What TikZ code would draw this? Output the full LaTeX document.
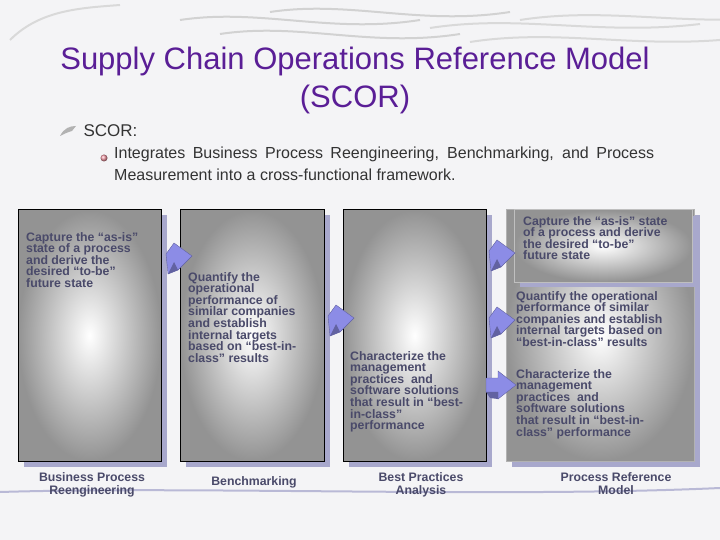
\documentclass[tikz,border=0pt]{standalone}
\usepackage{fontspec}
\setmainfont{Liberation Sans}
\begin{document}
\begin{tikzpicture}[x=1pt,y=-1pt,
  txt/.style={text=textc,font=\bfseries\fontsize{12.3}{11.6}\selectfont,align=left,anchor=north west,inner sep=0pt},
  lbl/.style={text=textc,font=\bfseries\fontsize{12.3}{13}\selectfont,align=center,anchor=north},
  panel/.style={inner color=white,outer color=gray!85,draw=#1,line width=1pt},
  chev/.style={fill=arrc,draw=arrc!70!black,line width=0.4pt}]
\definecolor{textc}{HTML}{4A4A6A}
\definecolor{shad}{HTML}{A8A8CC}
\definecolor{arrc}{HTML}{8C8CE6}
\definecolor{titlec}{HTML}{5A1E96}
\definecolor{bgc}{HTML}{F4F4F6}
\fill[bgc] (0,0) rectangle (720,540);
\useasboundingbox (0,0) rectangle (720,540);
% background swooshes
\foreach \y/\s in {20/0,34/40,12/90}{
 \draw[gray!35,line width=2pt] (\s+180,\y) .. controls (\s+260,\y-12) and (\s+330,\y+14) .. (\s+420,\y);
 \draw[gray!30,line width=2pt] (\s+430,\y+8) .. controls (\s+520,\y-6) and (\s+600,\y+16) .. (\s+700,\y+4);}
\draw[gray!30,line width=2pt] (10,40) .. controls (40,10) and (80,8) .. (120,5);
\draw[shad!80,line width=2pt] (0,492) .. controls (200,486) and (500,498) .. (720,488);
% title
\node[text=titlec,font=\fontsize{31}{38}\selectfont,align=center] (title) at (355,80) {Supply Chain Operations Reference Model\\(SCOR)};
% bullets
\fill[gray!60] (60,136) .. controls (64,128) and (70,126) .. (76,126) -- (72,131) .. controls (68,132) and (64,134) .. (60,136);
\node[text=black!80,font=\fontsize{17}{20}\selectfont,anchor=west] (scor) at (80,131) {SCOR:};
\shade[ball color=pink!80!purple] (104,158) circle (3.5);
\node[text=black!80,font=\fontsize{16}{22}\selectfont,align=justify,text width=540pt,anchor=north west,inner sep=0pt] (sub) at (114,147) {\hyphenpenalty=10000 Integrates Business Process Reengineering, Benchmarking, and Process Measurement into a cross-functional framework.};
% shadows
\foreach \a/\b in {18/161,180/324,343/486}{\fill[shad] (\a+6,215) rectangle (\b+6,467);}
\fill[shad] (512,215) rectangle (700,467);
% panels
\shade[panel=black] (18,210) rectangle (161,461);
\shade[panel=black] (180,210) rectangle (324,461);
\shade[panel=black] (343,210) rectangle (486,461);
\shade[panel=gray!60] (506,210) rectangle (694,461);
\fill[shad] (520,216) rectangle (698,287);
\shade[panel=gray!50] (514,210) rectangle (692,282);
\node[txt] (t1) at (26,232) {Capture the “as-is”\\state of a process\\and derive the\\desired “to-be”\\future state};
\node[txt] (t2) at (188,272) {Quantify the\\operational\\performance of\\similar companies\\and establish\\internal targets\\based on “best-in-\\class” results};
\node[txt] (t3) at (350,351) {Characterize the\\management\\practices\ \ and\\software solutions\\that result in “best-\\in-class”\\performance};
\node[txt] (t4) at (523,216) {Capture the “as-is” state\\of a process and derive\\the desired “to-be”\\future state};
\node[txt] (t5) at (516,291) {Quantify the operational\\performance of similar\\companies and establish\\internal targets based on\\“best-in-class” results};
\node[txt] (t6) at (516,369) {Characterize the\\management\\practices\ \ and\\software solutions\\that result in “best-in-\\class” performance};
% labels
\node[lbl] (l1) at (92,469) {Business Process\\Reengineering};
\node[lbl] (l2) at (254,473) {Benchmarking};
\node[lbl] (l3) at (421,469) {Best Practices\\Analysis};
\node[lbl] (l4) at (616,469) {Process Reference\\Model};
% chevrons
\foreach \x/\y in {176/258,338/320,499/255,499/322}{
 \filldraw[chev] (\x-10,\y-4) -- (\x-2,\y-15) -- (\x+16,\y-2) -- (\x+2,\y+12) -- (\x-8,\y+16) -- cycle;
 \fill[arrc!70!black] (\x-8,\y+16) -- (\x+2,\y+12) -- (\x-2,\y+4) -- cycle;}
\filldraw[chev] (486,378) -- (498,378) -- (498,371) -- (516,385) -- (498,399) -- (498,392) -- (486,392) -- cycle;
\fill[arrc!70!black] (486,392) -- (498,392) -- (498,399) -- (490,398) -- cycle;
\end{tikzpicture}
\end{document}
